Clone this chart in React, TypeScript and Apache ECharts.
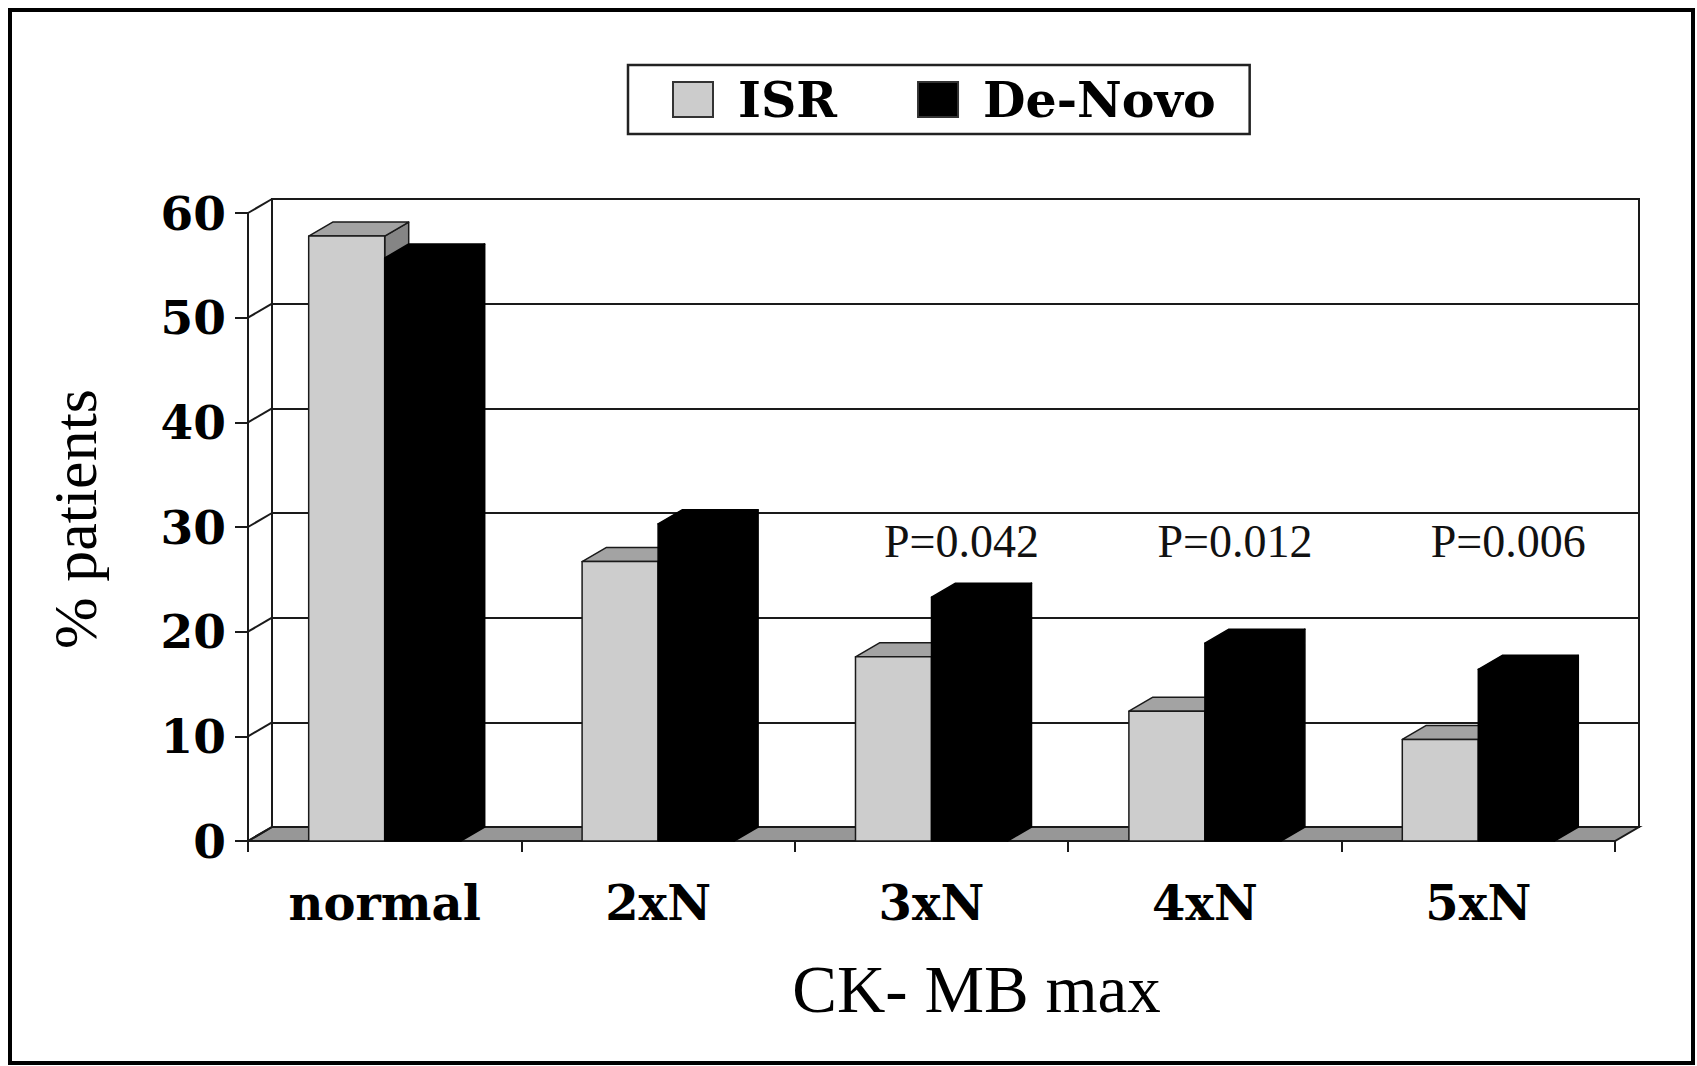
import React, { useEffect, useRef } from 'react';
import * as echarts from 'echarts';

// ---------- data ----------
const CATEGORIES = ['normal', '2xN', '3xN', '4xN', '5xN'];
const ISR_VALUES = [57.8, 26.7, 17.6, 12.4, 9.7];
const DE_NOVO_VALUES = [55.7, 30.3, 23.3, 18.9, 16.4];
const SERIES_NAMES = ['ISR', 'De-Novo'];
const P_VALUE_CATEGORIES = ['3xN', '4xN', '5xN'];
const P_VALUE_TEXTS = ['P=0.042', 'P=0.012', 'P=0.006'];
const Y_TICKS = [0, 10, 20, 30, 40, 50, 60];
const Y_MIN = 0;
const Y_MAX = 60;
const Y_INTERVAL = 10;
const X_AXIS_NAME = 'CK- MB max';
const Y_AXIS_NAME = '% patients';

// ---------- geometry / style ----------
const W = 1697;
const H = 1066;
const DX = 24; // depth offset of the 3D box
const DY = -14;
const FRONT = { left: 248, right: W - 1615, top: 213, bottom: H - 841 };
const BACK = { left: FRONT.left + DX, right: FRONT.right - DX, top: FRONT.top + DY, bottom: FRONT.bottom - DY };
const BAR_RATIO = 0.278;
const P_LABEL_LEVEL = 28.6;
const P_LABEL_SHIFT = 30;
const BOLD_FONT = 'DejaVu Serif';
const REG_FONT = 'Liberation Serif';
const LINE = '#1a1a1a';

function makeBarRenderer(side: number, face: string, topC: string, sideC: string, stroke: string) {
  return (params: any, api: any) => {
    const ci = api.value(0);
    const v = api.value(1);
    const base = api.coord([ci, 0]);
    const top = api.coord([ci, v]);
    const bw = api.size([1, 0])[0] * BAR_RATIO;
    const x0 = side < 0 ? base[0] - bw : base[0];
    const yT = top[1];
    const yB = base[1];
    const st = { stroke, lineWidth: 1.5, lineJoin: 'round' };
    return {
      type: 'group',
      children: [
        {
          type: 'polygon',
          shape: { points: [[x0 + bw, yT], [x0 + bw + DX, yT + DY], [x0 + bw + DX, yB + DY], [x0 + bw, yB]] },
          style: { fill: sideC, ...st },
        },
        {
          type: 'polygon',
          shape: { points: [[x0, yT], [x0 + bw, yT], [x0 + bw + DX, yT + DY], [x0 + DX, yT + DY]] },
          style: { fill: topC, ...st },
        },
        {
          type: 'rect',
          shape: { x: x0, y: yT, width: bw, height: yB - yT },
          style: { fill: face, ...st },
        },
      ],
    };
  };
}

export default function App() {
  const ref = useRef<HTMLDivElement>(null);

  useEffect(() => {
    if (!ref.current) return;
    const chart = echarts.init(ref.current, null, { renderer: 'svg' });

    const option: any = {
      animation: false,
      backgroundColor: '#ffffff',
      legend: {
        data: SERIES_NAMES,
        left: 628,
        top: 65,
        orient: 'horizontal',
        icon: 'rect',
        itemWidth: 40,
        itemHeight: 35,
        itemGap: 80,
        padding: [10, 34, 10, 44],
        borderColor: '#222',
        borderWidth: 2.5,
        selectedMode: false,
        itemStyle: { borderColor: '#333', borderWidth: 2 },
        textStyle: {
          fontFamily: BOLD_FONT,
          fontWeight: 'bold',
          fontSize: 49,
          color: '#000',
          padding: [0, 0, 0, 20],
        },
      },
      grid: [
        {
          left: FRONT.left,
          right: FRONT.right,
          top: FRONT.top,
          bottom: FRONT.bottom,
          outerBoundsMode: 'none',
        },
        {
          left: BACK.left,
          right: BACK.right,
          top: BACK.top,
          bottom: BACK.bottom,
          show: true,
          borderColor: LINE,
          borderWidth: 2,
          backgroundColor: 'transparent',
          outerBoundsMode: 'none',
        },
      ],
      xAxis: [
        {
          type: 'category',
          gridIndex: 0,
          data: CATEGORIES,
          boundaryGap: true,
          axisLine: { show: true, lineStyle: { color: LINE, width: 2 } },
          axisTick: { show: true, length: 11, alignWithLabel: false, lineStyle: { color: LINE, width: 2 } },
          axisLabel: {
            margin: 38,
            fontFamily: BOLD_FONT,
            fontWeight: 'bold',
            fontSize: 48,
            color: '#000',
          },
          splitLine: { show: false },
          name: X_AXIS_NAME,
          nameLocation: 'middle',
          nameGap: 114,
          nameTextStyle: {
            fontFamily: REG_FONT,
            fontSize: 67,
            color: '#000',
            padding: [0, 0, 0, 90],
          },
        },
        {
          type: 'category',
          gridIndex: 1,
          data: CATEGORIES,
          show: false,
        },
      ],
      yAxis: [
        {
          type: 'value',
          gridIndex: 0,
          min: Y_MIN,
          max: Y_MAX,
          interval: Y_INTERVAL,
          axisLine: { show: true, lineStyle: { color: LINE, width: 2 } },
          axisTick: { show: true, length: 13, inside: false, lineStyle: { color: LINE, width: 2 } },
          axisLabel: {
            margin: 22,
            fontFamily: BOLD_FONT,
            fontWeight: 'bold',
            fontSize: 47,
            color: '#000',
          },
          splitLine: { show: false },
          name: Y_AXIS_NAME,
          nameLocation: 'middle',
          nameGap: 142,
          nameRotate: 90,
          nameTextStyle: {
            fontFamily: REG_FONT,
            fontSize: 62,
            color: '#000',
            padding: [0, 0, 0, 16],
          },
        },
        {
          type: 'value',
          gridIndex: 1,
          min: Y_MIN,
          max: Y_MAX,
          interval: Y_INTERVAL,
          axisLine: { show: false },
          axisTick: { show: false },
          axisLabel: { show: false },
          splitLine: { show: true, lineStyle: { color: LINE, width: 2 } },
        },
      ],
      graphic: [
        {
          type: 'rect',
          shape: { x: 10, y: 10, width: 1683, height: 1053 },
          style: { fill: 'none', stroke: '#000', lineWidth: 4 },
          z: 10,
          silent: true,
        },
      ],
      series: [
        {
          name: 'frame',
          type: 'custom',
          xAxisIndex: 0,
          yAxisIndex: 0,
          z: 2,
          silent: true,
          data: Y_TICKS.map((v) => [CATEGORIES[0], v]),
          renderItem: (params: any, api: any) => {
            const cs = params.coordSys;
            const v = api.value(1);
            const p = api.coord([0, v]);
            const left = cs.x;
            const right = cs.x + cs.width;
            const children: any[] = [];
            if (v === Y_MIN) {
              children.push({
                type: 'polygon',
                shape: { points: [[left, p[1]], [right, p[1]], [right + DX, p[1] + DY], [left + DX, p[1] + DY]] },
                style: { fill: '#979797', stroke: LINE, lineWidth: 2 },
              });
            }
            children.push({
              type: 'line',
              shape: { x1: left, y1: p[1], x2: left + DX, y2: p[1] + DY },
              style: { stroke: LINE, lineWidth: 2 },
            });
            return { type: 'group', children };
          },
        },
        {
          name: SERIES_NAMES[0],
          type: 'custom',
          xAxisIndex: 0,
          yAxisIndex: 0,
          z: 3,
          itemStyle: { color: '#cccccc', borderColor: '#333', borderWidth: 2 },
          data: ISR_VALUES.map((v, i) => [CATEGORIES[i], v]),
          renderItem: makeBarRenderer(-1, '#cdcdcd', '#a3a3a3', '#858585', LINE),
        },
        {
          name: SERIES_NAMES[1],
          type: 'custom',
          xAxisIndex: 0,
          yAxisIndex: 0,
          z: 3,
          itemStyle: { color: '#000000', borderColor: '#333', borderWidth: 2 },
          data: DE_NOVO_VALUES.map((v, i) => [CATEGORIES[i], v]),
          renderItem: makeBarRenderer(1, '#000000', '#000000', '#000000', '#000000'),
        },
        {
          name: 'p-values',
          type: 'custom',
          xAxisIndex: 0,
          yAxisIndex: 0,
          z: 4,
          silent: true,
          data: P_VALUE_CATEGORIES.map((c) => [c, P_LABEL_LEVEL]),
          renderItem: (params: any, api: any) => {
            const p = api.coord([api.value(0), api.value(1)]);
            return {
              type: 'text',
              x: p[0] + P_LABEL_SHIFT,
              y: p[1],
              style: {
                text: P_VALUE_TEXTS[params.dataIndex],
                fill: '#111',
                font: `46px "${REG_FONT}"`,
                align: 'center',
                verticalAlign: 'middle',
              },
            };
          },
        },
      ],
    };

    chart.setOption(option);
    return () => {
      chart.dispose();
    };
  }, []);

  return (
    <div
      ref={ref}
      style={{ position: 'fixed', left: 0, top: 0, width: W, height: H, background: '#fff' }}
    />
  );
}
